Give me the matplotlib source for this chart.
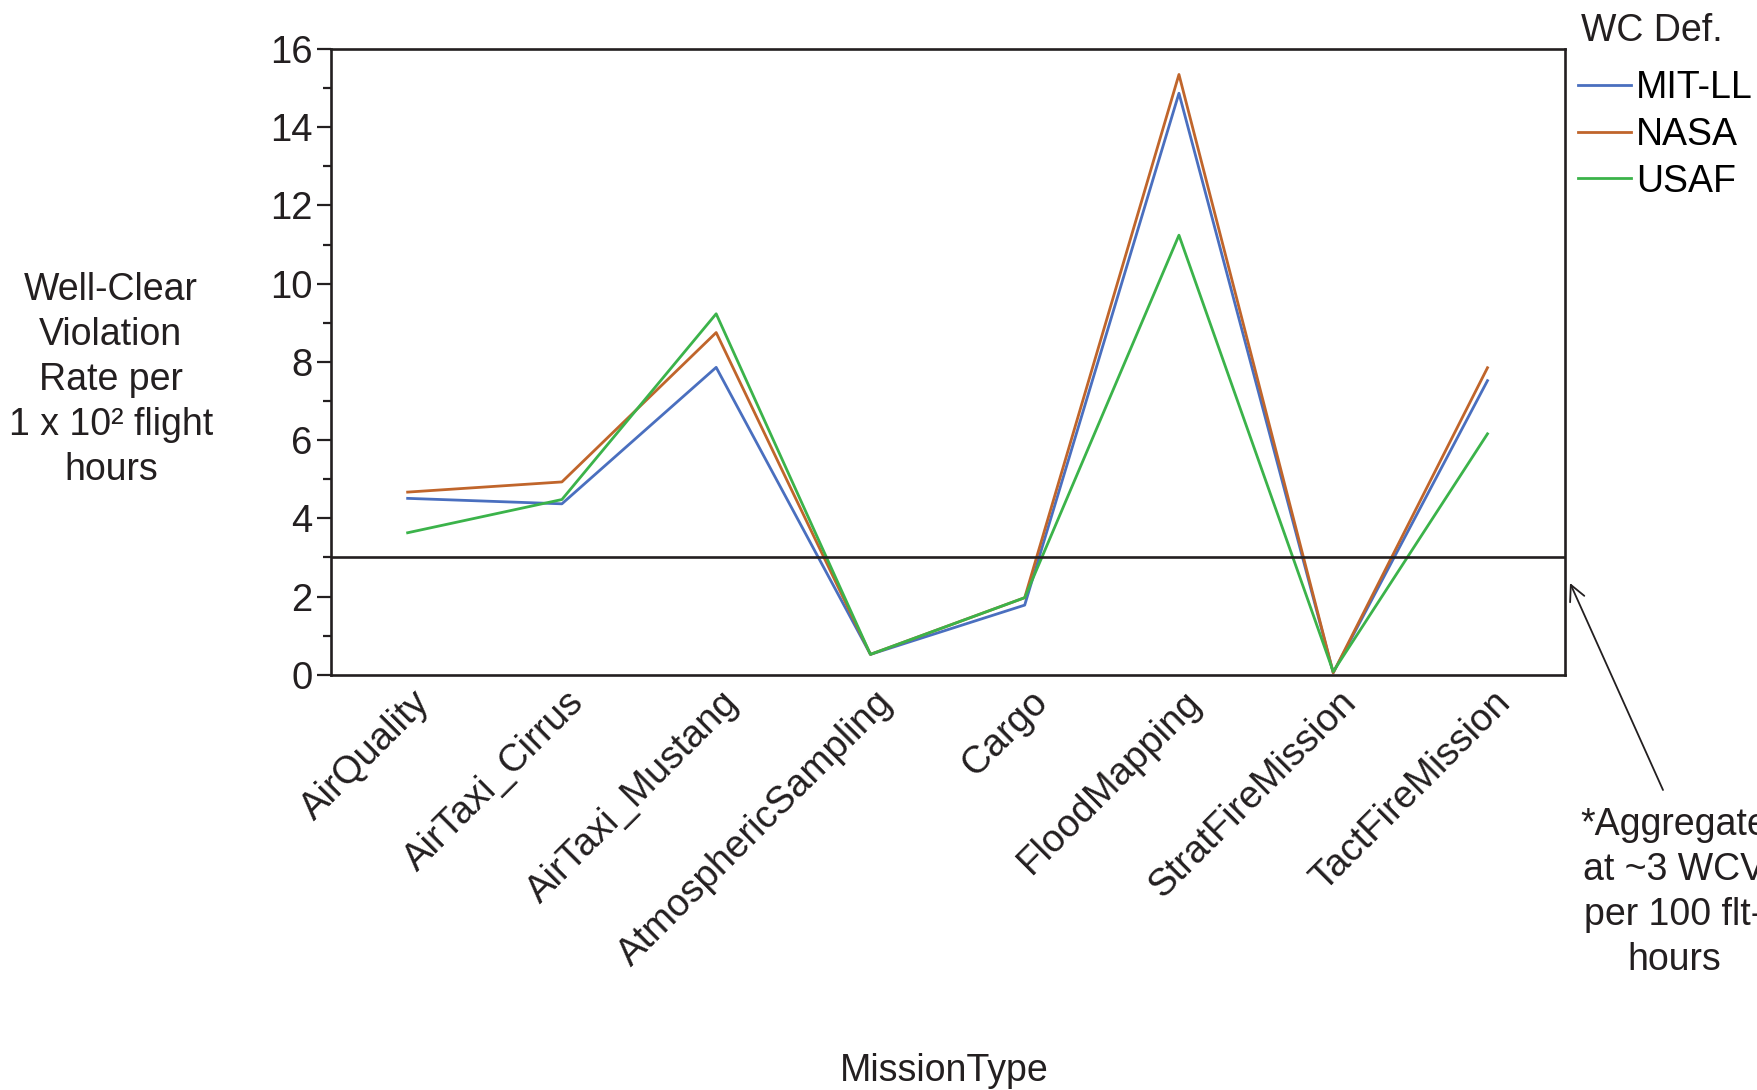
import numpy as np
import matplotlib
matplotlib.use("Agg")
import matplotlib.pyplot as plt
import matplotlib.transforms as mtransforms

plt.rcParams['font.family'] = ['Liberation Sans', 'DejaVu Sans']

# data
missions = ['AirQuality', 'AirTaxi_Cirrus', 'AirTaxi_Mustang', 'AtmosphericSampling',
            'Cargo', 'FloodMapping', 'StratFireMission', 'TactFireMission']
mit_ll = [4.51, 4.37, 7.86, 0.52, 1.78, 14.87, 0.05, 7.52]
nasa = [4.67, 4.93, 8.75, 0.52, 1.97, 15.35, 0.05, 7.85]
usaf = [3.63, 4.48, 9.23, 0.52, 1.97, 11.24, 0.08, 6.16]
aggregate = 3.0

ink = '#231f20'
fig = plt.figure(figsize=(17.58, 10.9), dpi=100)
ax = fig.add_axes([0.188, 0.381, 0.702, 0.574])

x = np.arange(len(missions))
ax.plot(x, mit_ll, color='#4a6fbf', lw=2.0, label='MIT-LL')
ax.plot(x, nasa, color='#c0652b', lw=2.0, label='NASA')
ax.plot(x, usaf, color='#3bb34a', lw=2.0, label='USAF')
ax.axhline(aggregate, color=ink, lw=1.9)

ax.set_xlim(-0.5, len(missions) - 0.5)
ax.set_ylim(0, 16)
ax.set_yticks(np.arange(0, 17, 2))
ax.set_yticks(np.arange(1, 16, 2), minor=True)
ax.tick_params(axis='y', which='major', length=10, width=1.6, labelsize=27.5, colors=ink, pad=3)
ax.tick_params(axis='y', which='minor', length=6, width=1.6, colors=ink)
ax.set_xticks(x)
ax.set_xticklabels(missions, rotation=45, ha='right', va='center',
                   rotation_mode='anchor', fontsize=27.5, color=ink)
ax.tick_params(axis='x', length=0, pad=16)
shift = mtransforms.ScaledTranslation(0.17, 0, fig.dpi_scale_trans)
for lab in ax.get_xticklabels():
    lab.set_transform(lab.get_transform() + shift)
for s in ax.spines.values():
    s.set_linewidth(1.9)
    s.set_color(ink)

fig.text(0.063, 0.651, 'Well-Clear\nViolation\nRate per\n1 x 10\u00b2 flight\nhours',
         ha='center', va='center', fontsize=27, color=ink, linespacing=1.32)
fig.text(0.537, 0.0175, 'MissionType', ha='center', va='center', fontsize=27, color=ink)

# legend: title as plain text, entries below
fig.text(1581 / 1758, 1 - 31 / 1090, 'WC Def.', ha='left', va='center', fontsize=27, color=ink)
leg = fig.legend(loc='upper left', bbox_to_anchor=(0.8955, 1 - 66 / 1090), frameon=False,
                 fontsize=27, handlelength=1.4, handletextpad=0.15, labelspacing=0.29,
                 borderaxespad=0, borderpad=0.1)

# aggregate note and arrow
fig.text(1674 / 1758, 1 - 807 / 1090, '*Aggregate\nat ~3 WCV\nper 100 flt-\nhours',
         ha='center', va='top', fontsize=27, color=ink, linespacing=1.32)
ax.annotate('', xy=(1570, 1090 - 583), xycoords='figure pixels',
            xytext=(1663, 1090 - 790), textcoords='figure pixels',
            arrowprops=dict(arrowstyle='->', color=ink, lw=1.3,
                            mutation_scale=28, shrinkA=0, shrinkB=0),
            annotation_clip=False)

fig.savefig('out.png', dpi=100)
